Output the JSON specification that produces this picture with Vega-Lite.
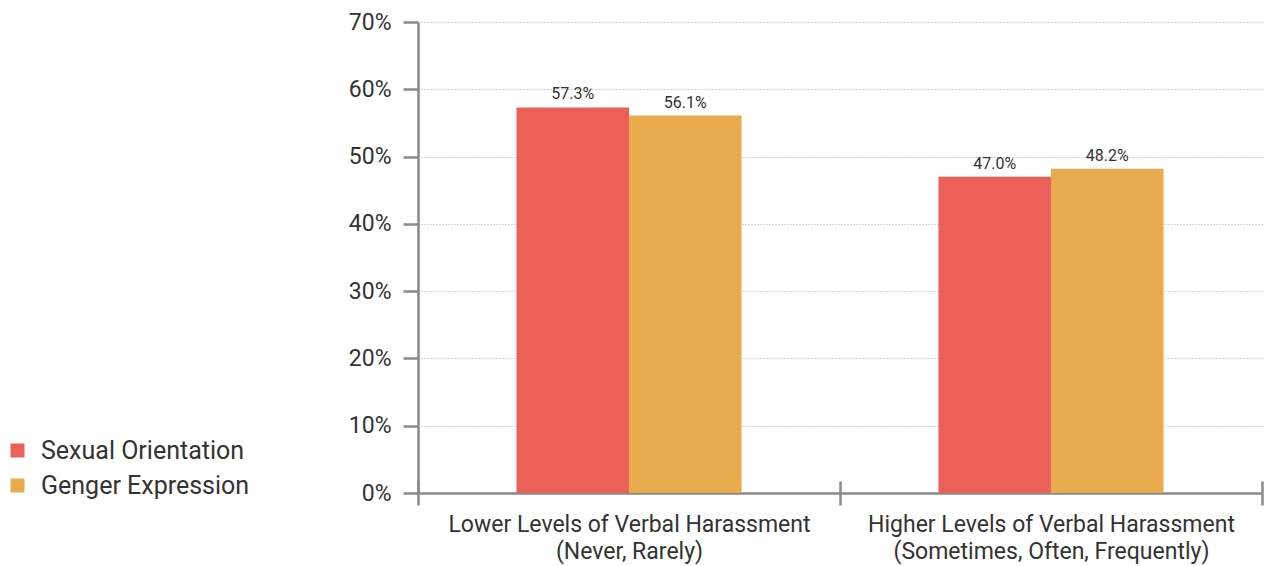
{
  "$schema": "https://vega.github.io/schema/vega-lite/v6.json",
  "width": 844,
  "height": 471,
  "autosize": {"type": "none"},
  "padding": {"left": 418, "top": 22, "right": 5, "bottom": 73},
  "background": "white",
  "config": {
    "view": {"stroke": null},
    "font": "Roboto"
  },
  "data": {
    "values": [
      {"group": "Lower Levels of Verbal Harassment|(Never, Rarely)", "series": "Sexual Orientation", "value": 0.573},
      {"group": "Lower Levels of Verbal Harassment|(Never, Rarely)", "series": "Genger Expression", "value": 0.561},
      {"group": "Higher Levels of Verbal Harassment|(Sometimes, Often, Frequently)", "series": "Sexual Orientation", "value": 0.470},
      {"group": "Higher Levels of Verbal Harassment|(Sometimes, Often, Frequently)", "series": "Genger Expression", "value": 0.482}
    ]
  },
  "encoding": {
    "x": {"field": "group", "type": "nominal", "sort": null,
      "scale": {"paddingInner": 0, "paddingOuter": 0}},
    "xOffset": {"field": "series", "type": "nominal", "sort": ["Sexual Orientation", "Genger Expression"],
      "scale": {"paddingInner": 0, "paddingOuter": 0.875}},
    "y": {"field": "value", "type": "quantitative",
      "scale": {"domain": [0, 0.7]},
      "axis": {"title": null, "format": ".0%", "values": [0, 0.1, 0.2, 0.3, 0.4, 0.5, 0.6, 0.7],
        "domainColor": "#8a8a8a", "domainWidth": 2.5, "tickColor": "#8a8a8a", "tickWidth": 2.5, "tickSize": 15,
        "labelFontSize": 23, "labelColor": "#333333", "labelPadding": 12, "labelFont": "Roboto",
        "gridColor": "#aaaaaa", "gridDash": [1, 2], "gridWidth": 1}}
  },
  "layer": [
    {
      "mark": {"type": "bar"},
      "encoding": {
        "x": {"field": "group", "type": "nominal", "sort": null,
          "scale": {"paddingInner": 0, "paddingOuter": 0},
          "axis": {"title": null, "labelAngle": 0, "labelExpr": "split(datum.label, '|')",
            "labelFontSize": 23, "labelColor": "#333333", "labelLineHeight": 27, "labelPadding": 8,
            "labelFont": "Roboto", "labelLimit": 600,
            "domainColor": "#8a8a8a", "domainWidth": 2.5, "tickColor": "#8a8a8a", "tickWidth": 2.5,
            "tickSize": 12, "tickBand": "extent"}},
        "color": {"field": "series", "type": "nominal", "sort": ["Sexual Orientation", "Genger Expression"],
          "scale": {"domain": ["Sexual Orientation", "Genger Expression"], "range": ["#EC605A", "#E9AB4D"]},
          "legend": {"title": null, "orient": "none", "legendX": -413, "legendY": 416,
            "symbolType": "square", "symbolSize": 196, "symbolStrokeWidth": 0, "symbolOpacity": 1,
            "labelFontSize": 25, "labelColor": "#333333", "labelOffset": 11, "labelFont": "Roboto",
            "labelLimit": 400, "rowPadding": 9}}
      }
    },
    {
      "mark": {"type": "text", "baseline": "bottom", "dy": -5, "fontSize": 16, "color": "#333333", "font": "Roboto"},
      "encoding": {
        "x": {"field": "group", "type": "nominal", "sort": null,
          "scale": {"paddingInner": 0, "paddingOuter": 0},
          "axis": {"title": null, "orient": "bottom", "labels": false, "domain": false,
            "tickColor": "#8a8a8a", "tickWidth": 2.5, "tickSize": -12, "tickBand": "extent"}},
        "text": {"field": "value", "type": "quantitative", "format": ".1%"}
      }
    }
  ],
  "resolve": {"axis": {"x": "independent"}}
}
